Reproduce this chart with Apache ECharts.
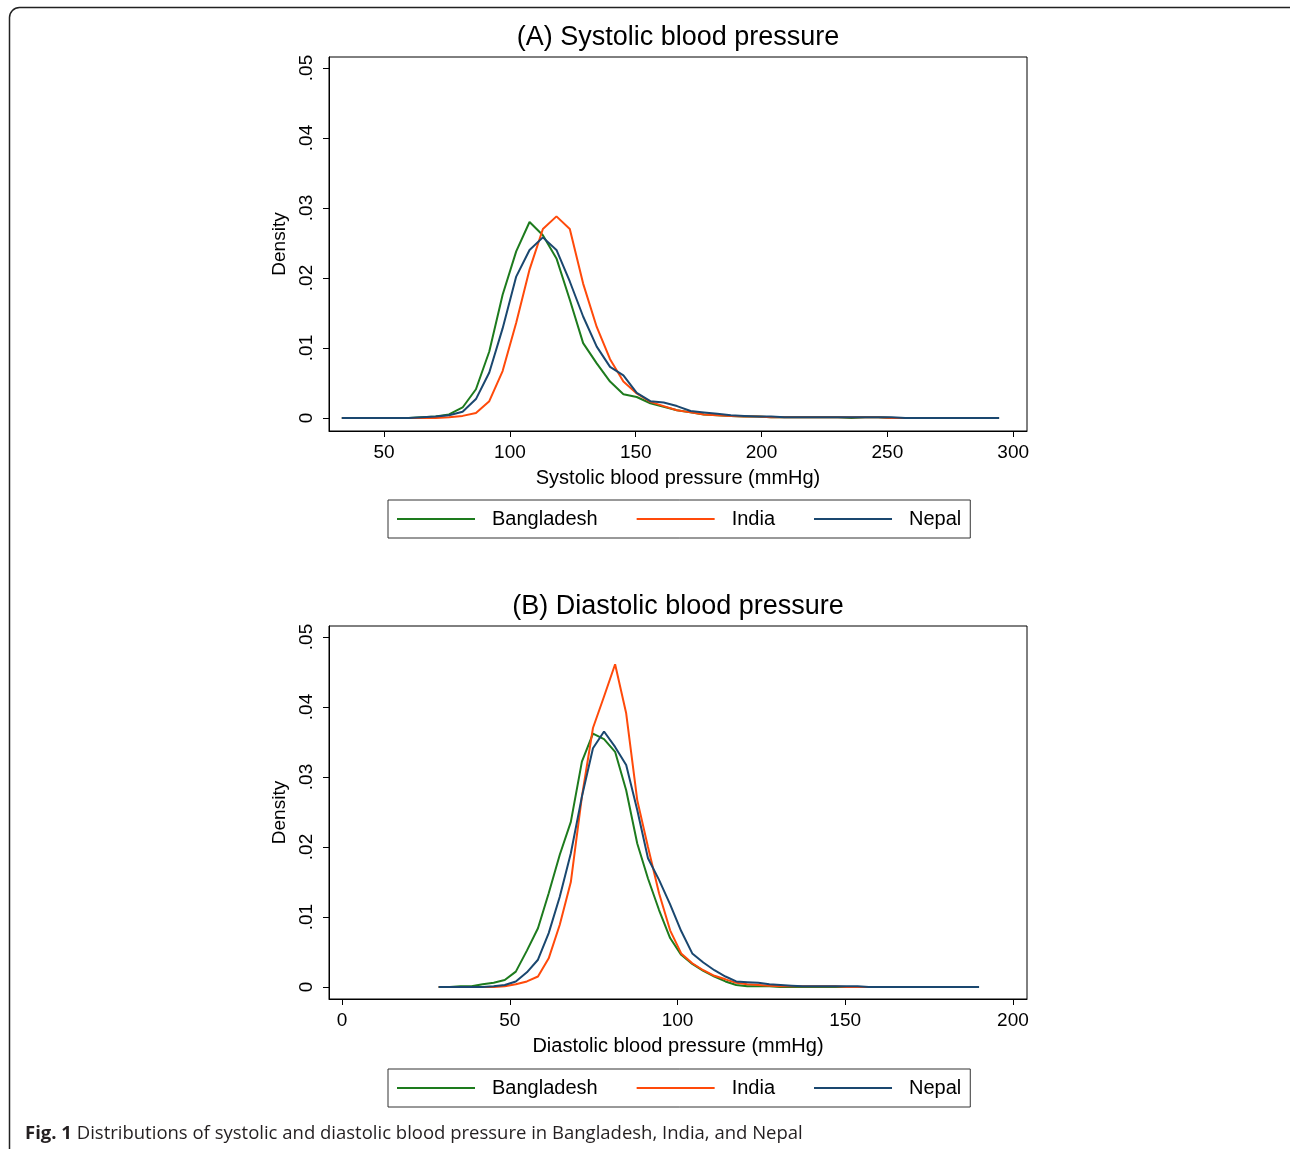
<!DOCTYPE html>
<html>
<head>
<meta charset="utf-8">
<script src="https://cdn.jsdelivr.net/npm/echarts@6/dist/echarts.min.js"></script>
<style>
  html, body { margin: 0; padding: 0; background: #fff; }
  #chart { width: 1290px; height: 1149px; }
</style>
</head>
<body>
<div id="chart"></div>
<script>
// 国家
var countries = ["Bangladesh", "India", "Nepal"];
var colors = ["#1d7b1d", "#ff4a0a", "#1a476f"];

// (A) 收缩压 x 网格
var sbpX = [33.2, 38.5, 43.8, 49.2, 54.5, 59.8, 65.2, 70.5, 75.8, 81.2, 86.5, 91.8, 97.1, 102.5, 107.8, 113.1, 118.5, 123.8, 129.1, 134.5,
  139.8, 145.1, 150.4, 155.8, 161.1, 166.4, 171.8, 177.1, 182.4, 187.8, 193.1, 198.4, 203.8, 209.1, 214.4, 219.7, 225.1, 230.4, 235.7, 241.1,
  246.4, 251.7, 257.1, 262.4, 267.7, 273.1, 278.4, 283.7, 289.0, 294.4];
var sbpBangladesh = [0, 0, 0, 0, 0, 0, 0.0001, 0.0002, 0.0005, 0.0015, 0.0041, 0.0095, 0.0176, 0.0238, 0.0280, 0.0261, 0.0228, 0.0169, 0.0107, 0.0078,
  0.0052, 0.0034, 0.0030, 0.0021, 0.0016, 0.0011, 0.0008, 0.0005, 0.0004, 0.0003, 0.0002, 0.0002, 0.0001, 0.0001, 0.0001, 0.0001, 0.0001, 0.0001, 0, 0.0001,
  0.0001, 0, 0, 0, 0, 0, 0, 0, 0, 0];
var sbpIndia = [0, 0, 0, 0, 0, 0, 0, 0, 0.0001, 0.0003, 0.0007, 0.0024, 0.0067, 0.0136, 0.0212, 0.0270, 0.0288, 0.0270, 0.0192, 0.0130,
  0.0084, 0.0052, 0.0035, 0.0023, 0.0017, 0.0011, 0.0008, 0.0005, 0.0004, 0.0003, 0.0002, 0.0002, 0.0001, 0.0001, 0.0001, 0.0001, 0.0001, 0.0001, 0.0001, 0.0001,
  0.0001, 0, 0, 0, 0, 0, 0, 0, 0, 0];
var sbpNepal = [0, 0, 0, 0, 0, 0, 0.0001, 0.0002, 0.0004, 0.0009, 0.0027, 0.0065, 0.0128, 0.0202, 0.0240, 0.0258, 0.0240, 0.0195, 0.0145, 0.0102,
  0.0073, 0.0061, 0.0036, 0.0024, 0.0022, 0.0017, 0.0010, 0.0008, 0.0006, 0.0004, 0.0003, 0.0002, 0.0002, 0.0001, 0.0001, 0.0001, 0.0001, 0.0001, 0.0001, 0.0001,
  0.0001, 0.0001, 0, 0, 0, 0, 0, 0, 0, 0];

// (B) 舒张压 x 网格
var dbpX = [28.8, 32.1, 35.3, 38.6, 41.9, 45.2, 48.5, 51.8, 55.1, 58.4, 61.6, 64.9, 68.2, 71.5, 74.8, 78.1, 81.4, 84.7, 88.0, 91.2,
  94.5, 97.8, 101.1, 104.4, 107.7, 111.0, 114.3, 117.5, 120.8, 124.1, 127.4, 130.7, 134.0, 137.3, 140.6, 143.8, 147.1, 150.4, 153.7, 157.0,
  160.3, 163.6, 166.9, 170.2, 173.4, 176.7, 180.0, 183.3, 186.6, 189.9];
var dbpBangladesh = [0, 0, 0.0001, 0.0001, 0.0004, 0.0006, 0.0010, 0.0022, 0.0052, 0.0084, 0.0134, 0.0189, 0.0236, 0.0322, 0.0362, 0.0354, 0.0336, 0.0281, 0.0205, 0.0155,
  0.0110, 0.0070, 0.0046, 0.0033, 0.0023, 0.0015, 0.0008, 0.0003, 0.0001, 0.0001, 0.0001, 0, 0, 0, 0, 0, 0, 0, 0, 0,
  0, 0, 0, 0, 0, 0, 0, 0, 0, 0];
var dbpIndia = [0, 0, 0, 0, 0, 0, 0.0001, 0.0004, 0.0008, 0.0015, 0.0041, 0.0089, 0.0150, 0.0272, 0.0370, 0.0415, 0.0461, 0.0391, 0.0267, 0.0200,
  0.0134, 0.0081, 0.0048, 0.0034, 0.0024, 0.0016, 0.0011, 0.0006, 0.0004, 0.0003, 0.0002, 0.0001, 0.0001, 0.0001, 0.0001, 0.0001, 0.0001, 0, 0, 0,
  0, 0, 0, 0, 0, 0, 0, 0, 0, 0];
var dbpNepal = [0, 0, 0, 0, 0, 0.0001, 0.0003, 0.0008, 0.0021, 0.0039, 0.0077, 0.0129, 0.0191, 0.0272, 0.0341, 0.0365, 0.0343, 0.0317, 0.0253, 0.0184,
  0.0153, 0.0118, 0.0080, 0.0048, 0.0035, 0.0024, 0.0015, 0.0008, 0.0007, 0.0006, 0.0004, 0.0003, 0.0002, 0.0001, 0.0001, 0.0001, 0.0001, 0.0001, 0.0001, 0,
  0, 0, 0, 0, 0, 0, 0, 0, 0, 0];

// 刻度
var sbpTicks = [50, 100, 150, 200, 250, 300];
var dbpTicks = [0, 50, 100, 150, 200];
var densityTicks = [0, 0.01, 0.02, 0.03, 0.04, 0.05];

var font = "'Liberation Sans', Arial, Helvetica, sans-serif";

function zip(xs, ys) {
  return xs.map(function (x, i) { return [x, ys[i]]; });
}

function densityLabel(v) {
  return v === 0 ? "0" : String(v).replace("0.", ".");
}

function xAxisOf(idx, min, max, ticks, name) {
  return {
    type: "value",
    gridIndex: idx,
    min: min,
    max: max,
    name: name,
    nameLocation: "middle",
    nameGap: 37,
    nameTextStyle: { fontSize: 20, color: "#000", fontFamily: font },
    splitLine: { show: false },
    axisLine: { show: true, onZero: false, lineStyle: { color: "#000", width: 1 } },
    axisTick: { show: true, length: 6, customValues: ticks, lineStyle: { color: "#000" } },
    axisLabel: { customValues: ticks, fontSize: 19, color: "#000", fontFamily: font, margin: 12 },
  };
}

function yAxisOf(idx, min, max) {
  return {
    type: "value",
    gridIndex: idx,
    min: min,
    max: max,
    name: "Density",
    nameLocation: "middle",
    nameGap: 37,
    nameRotate: 90,
    nameTextStyle: { fontSize: 19, color: "#000", fontFamily: font },
    splitLine: { show: false },
    axisLine: { show: true, onZero: false, lineStyle: { color: "#000", width: 1 } },
    axisTick: { show: true, length: 6, customValues: densityTicks, lineStyle: { color: "#000" } },
    axisLabel: {
      customValues: densityTicks,
      rotate: 90,
      fontSize: 19,
      color: "#000",
      fontFamily: font,
      margin: 13,
      formatter: densityLabel,
    },
  };
}

function legendOf(top) {
  return {
    data: countries,
    left: 388,
    top: top,
    orient: "horizontal",
    icon: "rect",
    itemWidth: 78,
    itemHeight: 2,
    itemGap: 39,
    padding: [9, 9, 9, 9],
    borderColor: "#333",
    borderWidth: 1,
    selectedMode: false,
    textStyle: { fontSize: 20, color: "#000", fontFamily: font, padding: [0, 0, 0, 12] },
  };
}

var sbpSeries = [sbpBangladesh, sbpIndia, sbpNepal];
var dbpSeries = [dbpBangladesh, dbpIndia, dbpNepal];
var series = [];
countries.forEach(function (c, i) {
  series.push({
    name: c, type: "line", xAxisIndex: 0, yAxisIndex: 0,
    data: zip(sbpX, sbpSeries[i]), symbol: "none",
    lineStyle: { color: colors[i], width: 2 }, itemStyle: { color: colors[i] },
  });
});
countries.forEach(function (c, i) {
  series.push({
    name: c, type: "line", xAxisIndex: 1, yAxisIndex: 1,
    data: zip(dbpX, dbpSeries[i]), symbol: "none",
    lineStyle: { color: colors[i], width: 2 }, itemStyle: { color: colors[i] },
  });
});

var chart = echarts.init(document.getElementById("chart"));
chart.setOption({
  animation: false,
  backgroundColor: "#fff",
  grid: [
    { left: 329, top: 57, width: 698, height: 374, show: true, borderColor: "#000", borderWidth: 1 },
    { left: 329, top: 626, width: 698, height: 373, show: true, borderColor: "#000", borderWidth: 1 },
  ],
  xAxis: [
    xAxisOf(0, 28.1, 305.5, sbpTicks, "Systolic blood pressure (mmHg)"),
    xAxisOf(1, -3.9, 204.2, dbpTicks, "Diastolic blood pressure (mmHg)"),
  ],
  yAxis: [
    yAxisOf(0, -0.00186, 0.05157),
    yAxisOf(1, -0.00171, 0.05157),
  ],
  legend: [legendOf(500), legendOf(1069)],
  series: series,
  graphic: [
    {
      type: "rect", silent: true, z: -1,
      shape: { x: 9.5, y: 7.5, width: 1320, height: 1180, r: 10 },
      style: { fill: "none", stroke: "#222", lineWidth: 1.5 },
    },
    {
      type: "text", x: 678, y: 38,
      style: { text: "(A) Systolic blood pressure", font: "27px " + font, fill: "#000", textAlign: "center", textVerticalAlign: "middle" },
    },
    {
      type: "text", x: 678, y: 607,
      style: { text: "(B) Diastolic blood pressure", font: "27px " + font, fill: "#000", textAlign: "center", textVerticalAlign: "middle" },
    },
    {
      type: "text", x: 25, y: 1134,
      style: {
        text: "{b|Fig. 1} Distributions of systolic and diastolic blood pressure in Bangladesh, India, and Nepal",
        fill: "#231f20",
        textVerticalAlign: "middle",
        font: "18.5px 'Open Sans', sans-serif",
        rich: {
          b: { fontWeight: "bold", fontSize: 18.5, fontFamily: "'Open Sans', sans-serif", fill: "#231f20" },
        },
      },
    },
  ],
});

window.onresize = function () {
  chart.resize();
};
</script>
</body>
</html>
